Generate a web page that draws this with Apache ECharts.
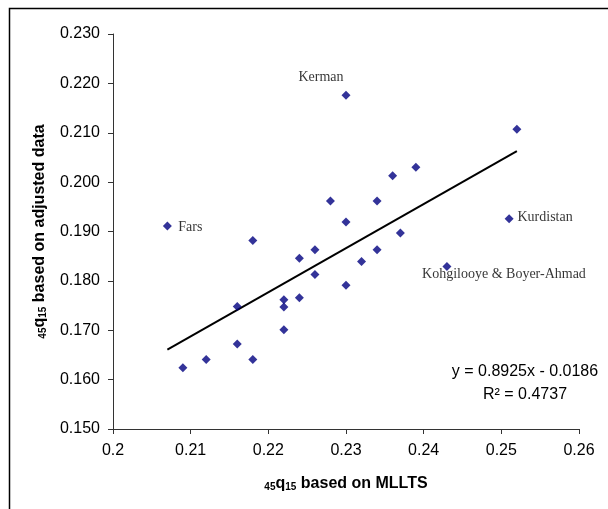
<!DOCTYPE html>
<html>
<head>
<meta charset="utf-8">
<script src="https://cdn.jsdelivr.net/npm/echarts@6/dist/echarts.min.js"></script>
<style>
html,body{margin:0;padding:0;background:#fff;}
#chart{width:608px;height:509px;}
</style>
</head>
<body>
<div id="chart"></div>
<script>
// ---- data ----
const mlltsX = [0.207, 0.209, 0.212, 0.216, 0.216, 0.218, 0.218, 0.222, 0.222, 0.222,
                0.224, 0.224, 0.226, 0.226, 0.228, 0.230, 0.230, 0.230, 0.232, 0.234,
                0.234, 0.236, 0.237, 0.239, 0.243, 0.251, 0.252];
const adjustedY = [0.1911, 0.1624, 0.1641, 0.1748, 0.1672, 0.1882, 0.1641, 0.1762, 0.1747, 0.1701,
                   0.1846, 0.1766, 0.1863, 0.1813, 0.1962, 0.2176, 0.1919, 0.1791, 0.1839, 0.1962,
                   0.1863, 0.2013, 0.1897, 0.2030, 0.1829, 0.1926, 0.2107];
const pointNames = ['Fars', '', '', '', '', '', '', '', '', '',
                    '', '', '', '', '', 'Kerman', '', '', '', '',
                    '', '', '', '', 'Kohgilooye & Boyer-Ahmad', 'Kurdistan', ''];
const trendX = [0.207, 0.252];
const trendY = [0.1661, 0.2063];
const xTicks = [0.20, 0.21, 0.22, 0.23, 0.24, 0.25, 0.26];
const yTicks = [0.150, 0.160, 0.170, 0.180, 0.190, 0.200, 0.210, 0.220, 0.230];
const equationText = 'y = 0.8925x - 0.0186';
const r2Text = 'R² = 0.4737';

// ---- styles ----
const labelOffsets = {
  'Fars': [23, 1],
  'Kerman': [-25, -18],
  'Kurdistan': [36, -1],
  'Kohgilooye & Boyer-Ahmad': [57, 8]
};
const sans = 'Liberation Sans, Arial, sans-serif';
const serif = 'Liberation Serif, Times New Roman, serif';

const scatterData = mlltsX.map((x, i) => {
  const item = { value: [x, adjustedY[i]], name: pointNames[i] };
  if (pointNames[i]) {
    item.label = {
      show: true,
      position: 'inside',
      offset: labelOffsets[pointNames[i]],
      formatter: pointNames[i],
      fontFamily: serif,
      fontSize: 14,
      color: '#000'
    };
  }
  return item;
});

const chart = echarts.init(document.getElementById('chart'), null, { renderer: 'canvas' });

const nameRich = {
  sub: { fontSize: 10, fontWeight: 'bold', fontFamily: sans, color: '#000', verticalAlign: 'bottom', padding: [6, 0, 0, 0] },
  b: { fontSize: 16, fontWeight: 'bold', fontFamily: sans, color: '#000' }
};

chart.setOption({
  animation: false,
  backgroundColor: '#fff',
  grid: { left: 113, right: 29, top: 34, bottom: 80, containLabel: false },
  xAxis: {
    type: 'value',
    min: xTicks[0], max: xTicks[xTicks.length - 1], interval: 0.01,
    splitLine: { show: false },
    axisLine: { lineStyle: { color: '#333', width: 1 } },
    axisTick: { show: true, length: 5, lineStyle: { color: '#333' } },
    axisLabel: {
      margin: 14, fontSize: 16, fontFamily: sans, color: '#000',
      formatter: v => String(+v.toFixed(2))
    },
    name: '{sub|45}{b|q}{sub|15}{b| based on MLLTS}',
    nameLocation: 'middle',
    nameGap: 47,
    nameTextStyle: { rich: nameRich }
  },
  yAxis: {
    type: 'value',
    min: yTicks[0], max: yTicks[yTicks.length - 1], interval: 0.01,
    splitLine: { show: false },
    axisLine: { show: true, lineStyle: { color: '#333', width: 1 } },
    axisTick: { show: true, length: 5, lineStyle: { color: '#333' } },
    axisLabel: {
      margin: 13, fontSize: 16, fontFamily: sans, color: '#000',
      formatter: v => v.toFixed(3)
    },
    name: '{sub|45}{b|q}{sub|15}{b| based on adjusted data}',
    nameLocation: 'middle',
    nameGap: 65,
    nameRotate: 90,
    nameTextStyle: { rich: nameRich }
  },
  series: [
    {
      type: 'line',
      data: trendX.map((x, i) => [x, trendY[i]]),
      showSymbol: false,
      lineStyle: { color: '#000', width: 2 },
      silent: true,
      z: 1
    },
    {
      type: 'scatter',
      data: scatterData,
      symbol: 'diamond',
      symbolSize: [9, 9],
      itemStyle: { color: '#000080' },
      z: 3
    }
  ],
  graphic: [
    {
      type: 'polyline',
      shape: { points: [[9.5, 509], [9.5, 8.5], [608, 8.5]] },
      style: { stroke: '#000', lineWidth: 1.5, fill: null }
    },
    {
      type: 'text', x: 525, y: 372,
      style: { text: equationText, fontSize: 16, fontFamily: sans, fill: '#000', align: 'center', verticalAlign: 'middle' }
    },
    {
      type: 'text', x: 525, y: 395,
      style: { text: r2Text, fontSize: 16, fontFamily: sans, fill: '#000', align: 'center', verticalAlign: 'middle' }
    }
  ]
});
</script>
</body>
</html>
